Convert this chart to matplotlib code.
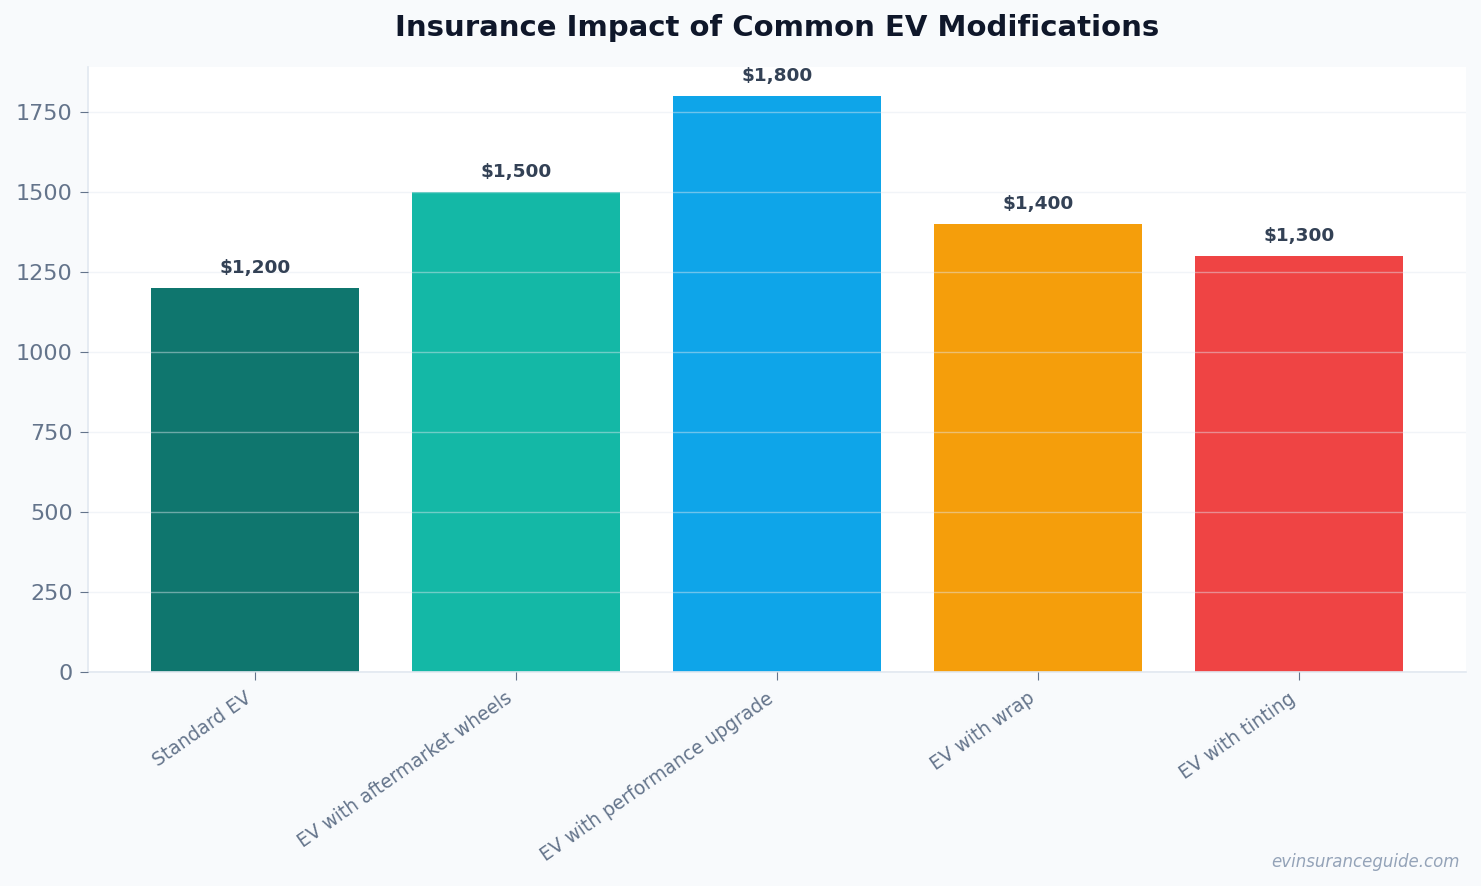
import matplotlib.pyplot as plt

# -------------------------------
# Data
# -------------------------------
categories = ["Standard EV", "EV with aftermarket wheels", "EV with performance upgrade",
              "EV with wrap", "EV with tinting"]
premiums = [1200, 1500, 1800, 1400, 1300]
bar_colors = ["#0f766e", "#14b8a6", "#0ea5e9", "#f59e0b", "#ef4444"]

# -------------------------------
# Figure
# -------------------------------
fig = plt.figure(figsize=(14.81, 8.86), dpi=100, facecolor="#f8fafc")
ax = fig.add_axes([88 / 1481, 1 - 672 / 886, (1466 - 88) / 1481, (672 - 67) / 886])
ax.set_facecolor("white")

x = range(len(categories))
bars = ax.bar(x, premiums, width=0.8, color=bar_colors, zorder=1)

ax.set_ylim(0, 1890)
ax.set_xticks(list(x))
ax.set_xticklabels(categories, rotation=35, ha="right",
                   fontsize=13.4, color="#64748b")
ax.tick_params(axis="y", labelsize=16, labelcolor="#64748b", color="#64748b", length=6, pad=5)
ax.tick_params(axis="x", color="#64748b", length=6, pad=6)

ax.grid(axis="y", color="#e2e8f0", alpha=0.45, linewidth=1, zorder=2)
ax.set_axisbelow(False)

for s in ["top", "right"]:
    ax.spines[s].set_visible(False)
for s in ["left", "bottom"]:
    ax.spines[s].set_color("#e2e8f0")
    ax.spines[s].set_linewidth(1.2)

for rect, val in zip(bars, premiums):
    ax.annotate(f"${val:,}", (rect.get_x() + rect.get_width() / 2, val),
                xytext=(0, 8), textcoords="offset points", ha="center", va="bottom",
                fontsize=13.3, fontweight="bold", color="#334155", zorder=3)

ax.set_title("Insurance Impact of Common EV Modifications", fontsize=21,
             fontweight="bold", color="#0f172a", pad=22)
fig.text(1460 / 1481, 1 - 862 / 886, "evinsuranceguide.com", ha="right", va="center",
         fontsize=12, style="italic", color="#94a3b8")

fig.savefig("out.png", dpi=100, facecolor=fig.get_facecolor())
plt.close(fig)
